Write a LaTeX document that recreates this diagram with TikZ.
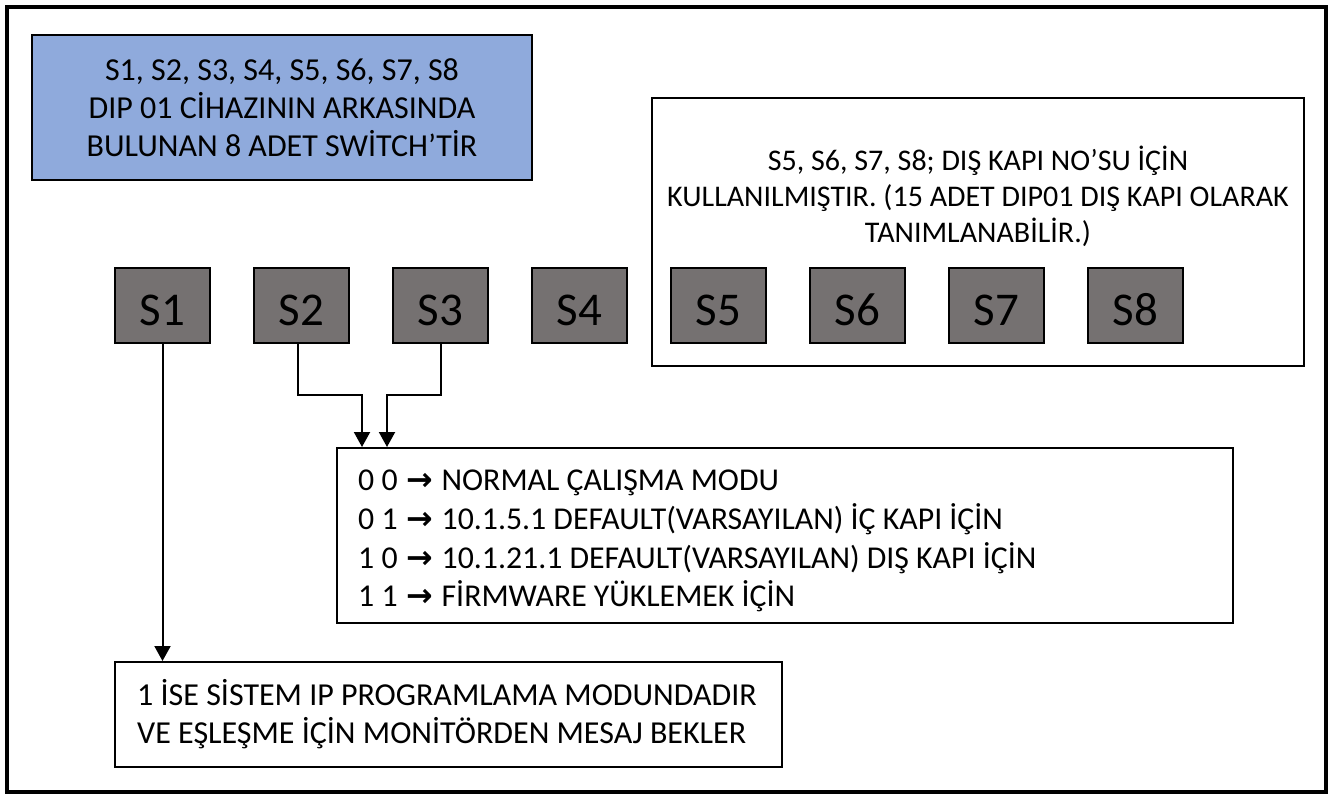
\documentclass[tikz,border=0pt]{standalone}
\usepackage{fontspec}
\setmainfont{Carlito}
\newfontfamily\arrowfont{DejaVu Sans}
\usetikzlibrary{arrows.meta}
\definecolor{swgray}{RGB}{117,113,113}
\definecolor{infoblue}{RGB}{143,170,220}
\newcommand{\rarr}{\hspace{1.5pt}{\arrowfont\bfseries →}\hspace{1.5pt}}
\begin{document}
\begin{tikzpicture}[x=1pt,y=-1pt,
  boxline/.style={draw=black,line width=2pt},
  switchbox/.style={boxline,fill=swgray,minimum width=95pt,minimum height=75pt,inner sep=0pt,
    font=\fontsize{47}{50}\selectfont,text height=40pt,text depth=0pt},
  conn/.style={line width=2pt,-{Triangle[width=16pt,length=15pt]}}]
\useasboundingbox (0,0) rectangle (1329,798);
\draw[line width=4pt] (7,7) rectangle (1326,791.5);

% info box
\node[boxline,fill=infoblue,minimum width=500pt,minimum height=145pt,inner sep=0pt,align=center,
  font=\fontsize{32}{38}\selectfont] (info) at (282,107.5)
  {S1, S2, S3, S4, S5, S6, S7, S8\\DIP 01 CİHAZININ ARKASINDA\\BULUNAN 8 ADET SWİTCH’TİR};

% door box
\node[boxline,minimum width=652pt,minimum height=268pt,inner sep=0pt] (door) at (978,232) {};
\node[align=center,inner sep=0pt,font=\fontsize{30}{36}\selectfont] (doortext) at (978,196)
  {S5, S6, S7, S8; DIŞ KAPI NO’SU İÇİN\\KULLANILMIŞTIR. (15 ADET DIP01 DIŞ KAPI OLARAK\\TANIMLANABİLİR.)};

% switches
\foreach \i in {1,...,8}{
  \node[switchbox] (S\i) at ({162.5+139*(\i-1)},305) {S\i};
}

% modes box
\node[boxline,minimum width=896pt,minimum height=175pt,inner sep=0pt] (modes) at (785,535.5) {};
\node[anchor=west,align=left,inner sep=0pt,font=\fontsize{31.8}{38.7}\selectfont] (modestext) at (358,541)
  {0 0 \rarr{} NORMAL ÇALIŞMA MODU\\
   0 1 \rarr{} 10.1.5.1 DEFAULT(VARSAYILAN) İÇ KAPI İÇİN\\
   1 0 \rarr{} 10.1.21.1 DEFAULT(VARSAYILAN) DIŞ KAPI İÇİN\\
   1 1 \rarr{} FİRMWARE YÜKLEMEK İÇİN};

% ip box
\node[boxline,minimum width=667pt,minimum height=105pt,inner sep=0pt] (ipbox) at (448.5,714.5) {};
\node[anchor=west,align=left,inner sep=0pt,font=\fontsize{32}{38}\selectfont] (iptext) at (137,714)
  {1 İSE SİSTEM IP PROGRAMLAMA MODUNDADIR\\VE EŞLEŞME İÇİN MONİTÖRDEN MESAJ BEKLER};

% connectors
\coordinate (j2) at (362,395);
\coordinate (j3) at (387,395);
\draw[conn] (S1.south) -- (S1.south |- ipbox.north);
\draw[conn] ([xshift=-4pt]S2.south) |- (j2) -- (j2 |- modes.north);
\draw[conn] (S3.south) |- (j3) -- (j3 |- modes.north);
\end{tikzpicture}
\end{document}
